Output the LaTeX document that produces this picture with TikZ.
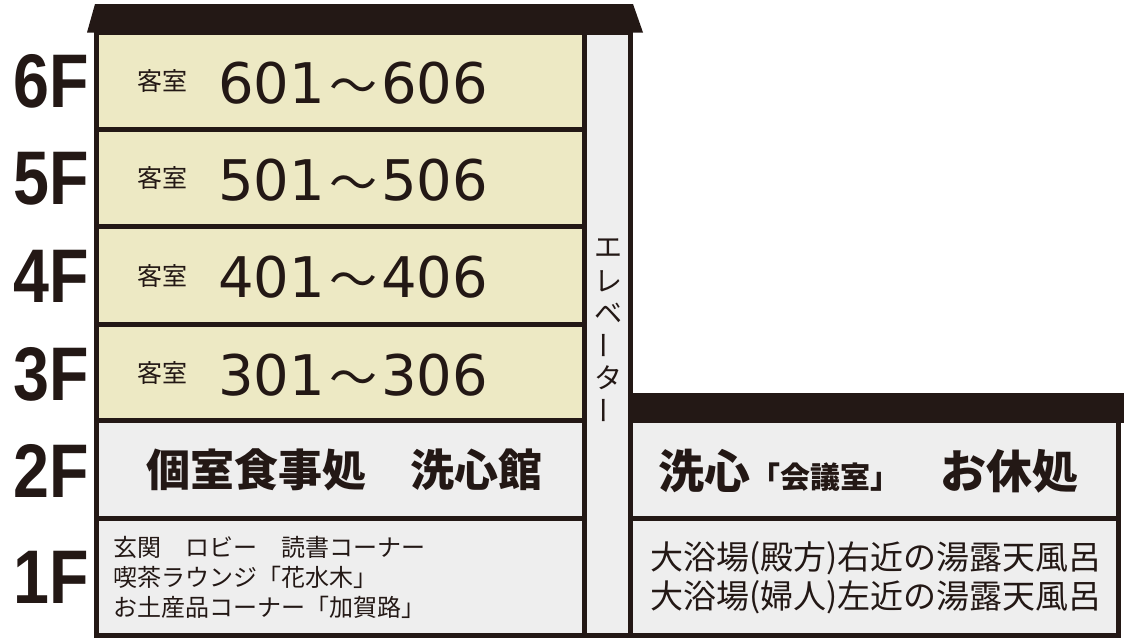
\documentclass[tikz,border=0pt]{standalone}
\usepackage{fontspec}
\newfontfamily\jp{Noto Sans CJK JP}
\newfontfamily\lat{Liberation Sans}
\newfontfamily\dv{DejaVu Sans}
\definecolor{ink}{HTML}{231815}
\definecolor{roomY}{HTML}{EDE9C4}
\definecolor{roomG}{HTML}{EEEEEE}
\newcommand\wv{\hspace{4pt}{\jp\fontsize{48}{48}\selectfont ～}\hspace{4pt}}
\newcommand\pl{\raisebox{1pt}{(}}
\newcommand\pr{\raisebox{1pt}{)}}
\tikzset{
  room/.style={draw=ink, line width=5pt, rectangle, inner sep=0pt, minimum width=488pt},
  ylw/.style={room, fill=roomY},
  gry/.style={room, fill=roomG},
  flabel/.style={text=ink, inner sep=0pt, xscale=0.85, font=\lat\bfseries\fontsize{76}{76}\selectfont},
  kyaku/.style={text=ink, inner sep=0pt, font=\jp\fontsize{25}{25}\selectfont},
  rnum/.style={text=ink, inner sep=0pt, anchor=west, font=\dv\fontsize{56}{56}\selectfont},
  big/.style={text=ink, inner sep=0pt, font=\jp\bfseries\fontsize{44}{44}\selectfont},
  small/.style={text=ink, inner sep=0pt, anchor=west, font=\jp\fontsize{24}{24}\selectfont},
  mid/.style={text=ink, inner sep=0pt, anchor=west, font=\jp\fontsize{33}{33}\selectfont},
  elv/.style={text=ink, inner sep=0pt, font=\jp\fontsize{28}{28}\selectfont},
}
\begin{document}
\begin{tikzpicture}[x=1pt,y=-1pt]
\useasboundingbox (0,0) rectangle (1124,640);
% left building rooms
\node[ylw, minimum height=97pt] (r6) at (340.5,80.5) {};
\node[ylw, minimum height=97pt] (r5) at (340.5,177.5) {};
\node[ylw, minimum height=98pt] (r4) at (340.5,275) {};
\node[ylw, minimum height=96.5pt] (r3) at (340.5,372.25) {};
\node[gry, minimum height=97.5pt] (r2) at (340.5,469.25) {};
\node[gry, minimum height=117.5pt] (r1) at (340.5,576.75) {};
% elevator
\node[gry, minimum width=46pt, minimum height=603.5pt] (ev) at (607.5,333.75) {};
% right building rooms
\node[gry, minimum height=97.5pt] (q2) at (874.5,469.25) {};
\node[gry, minimum height=117.5pt] (q1) at (874.5,576.75) {};
% roofs
\fill[ink] (95,4) -- (633,4) -- (643,32.5) -- (87,32.5) -- cycle;
\fill[ink] (630.5,393) rectangle (1124,423);
% floor labels
\node[flabel] (f6) at (51.5,81.5) {6F};
\node[flabel] (f5) at (51.5,179) {5F};
\node[flabel] (f4) at (51.5,276.5) {4F};
\node[flabel] (f3) at (51.5,374) {3F};
\node[flabel] (f2) at (51.5,470.5) {2F};
\node[flabel] (f1) at (51.5,577) {1F};
% guest rooms
\node[kyaku] (k6) at (162,81) {客室};
\node[kyaku] (k5) at (162,178) {客室};
\node[kyaku] (k4) at (162,275.5) {客室};
\node[kyaku] (k3) at (162,373) {客室};
\node[rnum] (n6) at (218,83) {601\wv606};
\node[rnum] (n5) at (218,180) {501\wv506};
\node[rnum] (n4) at (218,277.5) {401\wv406};
\node[rnum] (n3) at (218,375) {301\wv306};
% 2F
\node[big] (t2) at (344,470) {個室食事処　洗心館};
\node[big, anchor=west, font=\jp\bfseries\fontsize{46}{46}\selectfont] (u2) at (658,471) {洗心{\fontsize{30}{30}\selectfont 「会議室」}\hspace{40pt}お休処};
% 1F left
\node[small] (a1) at (113,547) {玄関　ロビー　読書コーナー};
\node[small] (a2) at (113,577) {喫茶ラウンジ「花水木」};
\node[small] (a3) at (113,607) {お土産品コーナー「加賀路」};
% 1F right
\node[mid] (b1) at (650,558) {大浴場\pl 殿方\pr 右近の湯露天風呂};
\node[mid] (b2) at (650,597) {大浴場\pl 婦人\pr 左近の湯露天風呂};
% elevator text
\node[elv] (e1) at (608,248) {エ};
\node[elv] (e2) at (608,281) {レ};
\node[elv] (e3) at (608,313) {ベ};
\node[elv, rotate=90] (e4) at (608,345) {ー};
\node[elv] (e5) at (608,378) {タ};
\node[elv, rotate=90] (e6) at (608,410) {ー};
\end{tikzpicture}
\end{document}
